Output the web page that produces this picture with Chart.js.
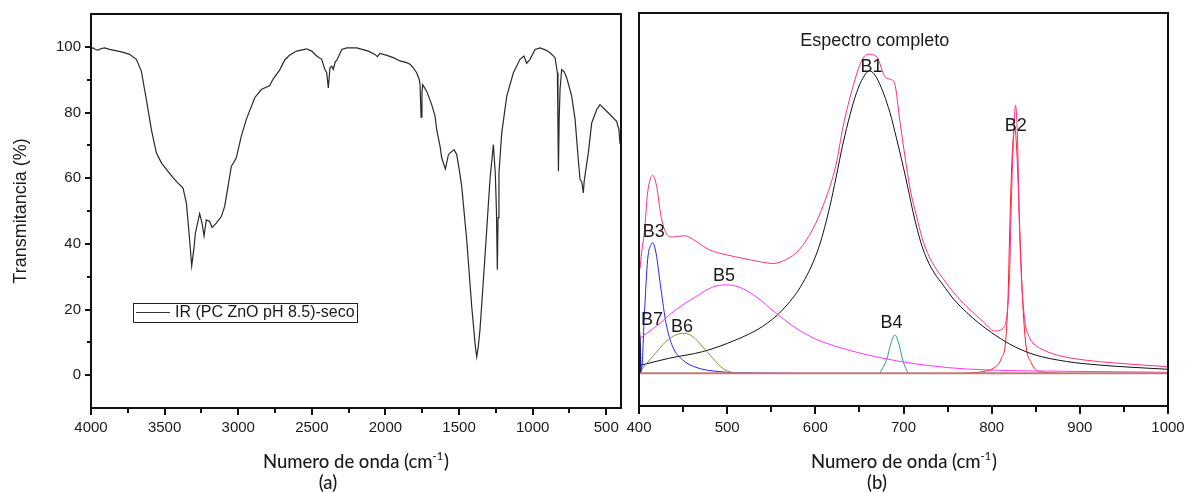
<!DOCTYPE html>
<html>
<head>
<meta charset="utf-8">
<script src="https://cdn.jsdelivr.net/npm/chart.js@4.4.1/dist/chart.umd.min.js"></script>
<style>
  html, body { margin: 0; padding: 0; background: #ffffff; }
  #wrap { position: relative; width: 1187px; height: 493px; overflow: hidden; background: #ffffff; }
  #cA { position: absolute; left: 0; top: 0; }
  #cB { position: absolute; left: 610px; top: 0; }
</style>
</head>
<body>
<div id="wrap">
  <canvas id="cA" width="630" height="493"></canvas>
  <canvas id="cB" width="577" height="493"></canvas>
</div>
<script>
// ---------- (a) IR spectrum: wavenumber (cm-1) vs transmittance (%) ----------
const irWave = [4000,3986,3970,3952,3930,3907,3880,3850,3817,3780,3738,3692,3658,3640,3624,3590,3556,3520,3477,3440,
  3409,3375,3352,3334,3316,3300,3291,3262,3246,3232,3217,3194,3178,3149,3115,3092,3069,3047,3013,2979,
  2945,2888,2843,2786,2764,2718,2684,2650,2603,2535,2501,2467,2433,2411,2399,2388,2377,2365,2354,2343,
  2327,2297,2263,2195,2116,2071,2055,2037,1990,1947,1901,1856,1833,1811,1788,1770,1765,1758,1752,1747,
  1720,1686,1663,1652,1629,1618,1593,1573,1566,1534,1516,1500,1482,1448,1414,1390,1380,1370,1358,1324,
  1290,1267,1254,1246,1240,1235,1229,1210,1176,1131,1086,1059,1041,1018,984,950,910,882,848,832,
  828,825,820,814,803,785,769,735,712,690,678,667,660,656,650,642,622,599,565,543,
  509,475,430,414,407,405];
const irTrans = [99.5,99.7,99.2,99.0,99.5,99.7,99.3,99.0,98.7,98.3,97.7,96.2,92.6,88.0,84.0,74.8,67.7,64.5,62.1,60.0,
  58.5,57.0,52.4,43.3,33.3,39.0,43.3,49.2,46.3,42.4,47.3,46.8,45.0,46.3,48.3,51.4,57.5,63.6,66.2,72.8,
  77.9,84.5,87.0,88.2,90.1,93.0,96.0,97.5,98.7,99.4,98.7,97.2,96.2,93.1,92.1,87.5,93.6,94.1,93.1,95.2,
  96.2,99.2,99.7,99.7,98.7,97.7,97.0,98.0,97.4,96.7,95.7,95.2,94.7,93.6,92.1,90.0,88.5,78.6,86.0,88.5,
  86.5,82.4,78.9,74.8,69.7,66.2,62.8,67.0,67.5,68.7,67.2,63.0,57.5,41.2,20.9,9.0,5.6,8.5,13.7,36.1,
  59.5,70.2,61.6,50.0,32.1,48.0,61.6,73.8,85.0,92.1,96.2,97.2,95.0,96.2,99.2,99.7,99.0,98.2,96.7,92.1,
  75.0,62.1,78.0,87.0,93.1,92.3,90.6,85.0,77.9,65.6,59.5,59.0,57.0,55.5,59.0,61.6,67.7,76.8,80.9,82.4,
  80.9,79.4,77.3,74.8,70.7,70.5];
const irLabel = 'IR (PC ZnO pH 8.5)-seco';
const irXTicks = [4000, 3500, 3000, 2500, 2000, 1500, 1000, 500];
const irXMinor = [3750, 3250, 2750, 2250, 1750, 1250, 750];
const irYTicks = [0, 20, 40, 60, 80, 100];
const irYMinor = [10, 30, 50, 70, 90];

// ---------- (b) band deconvolution 400-1000 cm-1 ----------
const envWave = [400.3,401,403,406,409.8,415.5,420,425,430.6,438.2,451.4,464.6,479.7,498.6,521.3,540.2,551.5,566.6,581.7,596.9,
  610,623.3,631.6,642.9,652.4,659.9,669.4,678.9,686.4,690.2,695.9,699.6,703.4,708,714.8,721,727,735,745,757,
  771.5,790.3,803.5,813,817.5,820.5,822.1,824.5,827,829.5,831,833.7,837.5,843.1,848,854.5,873.4,903.6,941.3,1000];
const envVal = [50.5,32,37,42.8,55.1,60.4,57.1,47.9,42.9,41.6,42,40.3,37.7,36.2,34.9,33.9,33.5,34.7,37.7,43.9,
  52,63.5,75.5,87.7,95.4,97.4,96.7,90.6,89.6,88.3,77,70,63,55.6,48,41.4,36.9,32.7,28.9,24.6,
  20.4,15.8,12.9,13.8,18.4,31.6,50,70,81.8,70,50,29.6,16.3,10.8,8.9,7.7,5.6,4.1,3.1,2.0];

const b1Wave = [400,434.4,472.2,510,540.2,562.9,585.6,604.4,616.5,623.3,631.6,646.8,658.1,661.9,671.3,684.6,692,699.6,705.5,711,
  716,721,727,735,745,757,771.5,785,800,820.5,846.9,884.8,922.5,960.3,1000];
const b1Val = [2.3,4.6,6.6,10.2,14.3,19.4,27.5,38.8,51,59.5,70.4,85.7,91.8,92.3,89.3,79.6,71.8,63.2,56,49,
  43.5,38.8,34.6,30.6,26.9,22.6,18.6,15.4,12.4,8.9,5.8,3.6,2.5,1.8,1.2];

const b2Wave = [770,790,801.6,811.1,816,818.6,820.5,823,826.2,829,831.9,834.9,838.6,845.1,854.5,880];
const b2Val = [0,0.5,1.5,4.6,10.2,23.4,43.9,65,75,65,43.9,23.4,9.2,3.1,0.5,0];

const b3Wave = [401,403,406,409.8,413.6,415.5,419.3,425,430.6,438.2,449.5,464.6,491,510,574];
const b3Val = [0.5,1,17.3,34.7,39.3,39.8,36.7,25.5,15.3,8.1,4.1,1.8,0.5,0.2,0];

const b4Wave = [673.2,680.8,686.4,690.2,694,699.6,705.3];
const b4Val = [0,4.1,9.7,11.7,9.7,3.6,0];

const b5Wave = [401.1,419.3,441.9,464.6,483.5,498.6,513.7,532.6,555.3,578,600.6,616.5,623.3,640,654.3,692.1,729.9,771.5,922.5,1000];
const b5Val = [10.7,14.3,19.4,23.4,26.3,27,26.3,23.4,18.4,13.8,10.4,8.8,8.2,6.9,5.9,3.8,2.3,1.3,0.5,0.3];

const b6Wave = [400,402.3,415.5,430.6,441.9,451.4,460.9,472.2,483.5,494.8,506.2,515];
const b6Val = [0.3,1,5.1,9.7,11.7,12.2,11.2,8.1,4.6,1.5,0.2,0];

const b7Wave = [400,400.6,401.4,402];
const b7Val = [0,13,8,0];

const baseWave = [400, 1000];
const baseVal = [0, 0];

const spXTicks = [400, 500, 600, 700, 800, 900, 1000];
const spXMinor = [450, 550, 650, 750, 850, 950];
const spTitle = 'Espectro completo';
const bandNames = ['B1', 'B2', 'B3', 'B4', 'B5', 'B6', 'B7'];

// ---------- shared helpers ----------
const TXT = '#1a1a1a';
const TICK_FONT = { family: 'Liberation Sans, Arial, sans-serif', size: 15 };
const pts = (xs, ys) => xs.map((x, i) => ({ x: x, y: ys[i] }));

// keep the plot area exactly where the layout padding puts it
function noAutoPadding(s) {
  s.paddingTop = 0; s.paddingBottom = 0; s.paddingLeft = 0; s.paddingRight = 0;
}

function drawFrame(ctx, a) {
  ctx.save();
  ctx.strokeStyle = '#111';
  ctx.lineWidth = 2;
  ctx.strokeRect(a.left, a.top, a.right - a.left, a.bottom - a.top);
  ctx.restore();
}

function drawXTicks(chart, majors, minors, majLen, minLen) {
  const { ctx, chartArea: a } = chart;
  const s = chart.scales.x;
  ctx.save();
  ctx.strokeStyle = '#111';
  ctx.lineWidth = 2;
  const mark = (v, len) => {
    const px = Math.round(s.getPixelForValue(v));
    ctx.beginPath(); ctx.moveTo(px, a.bottom); ctx.lineTo(px, a.bottom + len); ctx.stroke();
  };
  majors.forEach(v => mark(v, majLen));
  minors.forEach(v => mark(v, minLen));
  ctx.restore();
}

function drawYTicks(chart, majors, minors, majLen, minLen) {
  const { ctx, chartArea: a } = chart;
  const s = chart.scales.y;
  ctx.save();
  ctx.strokeStyle = '#111';
  ctx.lineWidth = 2;
  const mark = (v, len) => {
    const py = Math.round(s.getPixelForValue(v));
    ctx.beginPath(); ctx.moveTo(a.left, py); ctx.lineTo(a.left - len, py); ctx.stroke();
  };
  majors.forEach(v => mark(v, majLen));
  minors.forEach(v => mark(v, minLen));
  ctx.restore();
}

// axis title "Numero de onda (cm-1)" with superscript, plus panel letter
function drawWaveTitle(ctx, cx, cy, letter, letterX) {
  ctx.save();
  ctx.fillStyle = TXT;
  ctx.textBaseline = 'alphabetic';
  const main = '500 18.5px Lato, sans-serif';
  const sup = '500 11px Lato, sans-serif';
  const p1 = 'Numero de onda (cm', p2 = '-1', p3 = ')';
  ctx.font = main; const w1 = ctx.measureText(p1).width; const w3 = ctx.measureText(p3).width;
  ctx.font = sup; const w2 = ctx.measureText(p2).width;
  let x = cx - (w1 + w2 + 1 + w3) / 2;
  const base = cy + 6.5;
  ctx.textAlign = 'left';
  ctx.font = main; ctx.fillText(p1, x, base); x += w1;
  ctx.font = sup; ctx.fillText(p2, x, base - 8); x += w2 + 1;
  ctx.font = main; ctx.fillText(p3, x, base);
  ctx.textAlign = 'center';
  ctx.font = main;
  ctx.fillText(letter, letterX, base + 21);
  ctx.restore();
}

const noTicksGrid = { display: false, drawTicks: false };

// ---------- chart (a) ----------
const panelA = {
  id: 'panelA',
  afterDatasetsDraw(chart) {
    const { ctx, chartArea: a } = chart;
    drawFrame(ctx, a);
    drawXTicks(chart, irXTicks, irXMinor, 7, 5);
    drawYTicks(chart, irYTicks, irYMinor, 6, 4);

    // legend box
    ctx.save();
    ctx.strokeStyle = '#222';
    ctx.lineWidth = 1;
    ctx.strokeRect(133.5, 303.5, 224, 19);
    ctx.strokeStyle = '#333';
    ctx.beginPath(); ctx.moveTo(136, 312.5); ctx.lineTo(170, 312.5); ctx.stroke();
    ctx.fillStyle = TXT;
    ctx.font = '16px "Liberation Sans", Arial, sans-serif';
    ctx.textAlign = 'left';
    ctx.textBaseline = 'middle';
    ctx.fillText(irLabel, 175, 313);
    ctx.restore();

    // y title
    ctx.save();
    ctx.translate(21, 211);
    ctx.rotate(-Math.PI / 2);
    ctx.fillStyle = TXT;
    ctx.font = '18px "Liberation Sans", Arial, sans-serif';
    ctx.textAlign = 'center';
    ctx.textBaseline = 'middle';
    ctx.fillText('Transmitancia (%)', 0, 0);
    ctx.restore();

    drawWaveTitle(ctx, 356, 461.5, '(a)', 328);
  }
};

new Chart(document.getElementById('cA'), {
  type: 'line',
  data: {
    datasets: [{
      label: irLabel,
      data: pts(irWave, irTrans),
      borderColor: '#2a2a2a',
      borderWidth: 1.2,
      pointRadius: 0,
      tension: 0,
      fill: false
    }]
  },
  options: {
    responsive: false,
    animation: false,
    events: [],
    layout: { padding: { top: 14, right: 9, left: 0, bottom: 0 } },
    plugins: { legend: { display: false }, tooltip: { enabled: false } },
    scales: {
      x: {
        type: 'linear', reverse: true, min: 400, max: 4000,
        afterBuildTicks: s => { s.ticks = irXTicks.map(v => ({ value: v })); },
        afterFit: s => { s.height = 85; noAutoPadding(s); },
        grid: noTicksGrid, border: { display: false },
        ticks: { padding: 11, maxRotation: 0, autoSkip: false, color: TXT, font: TICK_FONT, callback: v => String(v) }
      },
      y: {
        type: 'linear', min: -10, max: 110,
        afterBuildTicks: s => { s.ticks = irYTicks.map(v => ({ value: v })); },
        afterFit: s => { s.width = 91; noAutoPadding(s); },
        grid: noTicksGrid, border: { display: false },
        ticks: { padding: 10, color: TXT, font: TICK_FONT, callback: v => String(v) }
      }
    }
  },
  plugins: [panelA]
});

// ---------- chart (b) ----------
const tagFont = '18px "Liberation Sans", Arial, sans-serif';
const bandTags = [
  { x: 663.8, y: 93.6 }, { x: 827.4, y: 75.5 }, { x: 416.8, y: 43.2 }, { x: 686.5, y: 15.2 },
  { x: 496.4, y: 29.7 }, { x: 448.7, y: 14.1 }, { x: 414.7, y: 16.3 }
];

const panelB = {
  id: 'panelB',
  afterDatasetsDraw(chart) {
    const { ctx, chartArea: a } = chart;
    drawFrame(ctx, a);
    drawXTicks(chart, spXTicks, spXMinor, 8, 6);
    const sx = chart.scales.x, sy = chart.scales.y;
    ctx.save();
    ctx.fillStyle = TXT;
    ctx.textAlign = 'center';
    ctx.textBaseline = 'middle';
    ctx.font = '18px "Liberation Sans", Arial, sans-serif';
    ctx.fillText(spTitle, sx.getPixelForValue(667.5), sy.getPixelForValue(101.4));
    ctx.font = tagFont;
    bandNames.forEach((n, i) => {
      ctx.fillText(n, sx.getPixelForValue(bandTags[i].x), sy.getPixelForValue(bandTags[i].y));
    });
    ctx.restore();
    drawWaveTitle(ctx, 904 - 610, 461.5, '(b)', 877 - 610);
  }
};

const curve = (label, xs, ys, color, width) => ({
  label: label,
  data: pts(xs, ys),
  borderColor: color,
  borderWidth: width || 1,
  pointRadius: 0,
  cubicInterpolationMode: 'monotone',
  fill: false
});

new Chart(document.getElementById('cB'), {
  type: 'line',
  data: {
    datasets: [
      curve('base', baseWave, baseVal, '#c07a7a', 2),
      curve('B7', b7Wave, b7Val, '#1a1a80', 1.5),
      curve('B6', b6Wave, b6Val, '#8e8e3a'),
      curve('B5', b5Wave, b5Val, '#ff33ff'),
      curve('B4', b4Wave, b4Val, '#2e9a9a'),
      curve('B3', b3Wave, b3Val, '#2424ff'),
      curve('B1', b1Wave, b1Val, '#111111'),
      curve(spTitle, envWave, envVal, '#ff2d87'),
      curve('B2', b2Wave, b2Val, '#ff1a1a')
    ]
  },
  options: {
    responsive: false,
    animation: false,
    events: [],
    layout: { padding: { top: 13, right: 19, left: 29, bottom: 0 } },
    plugins: { legend: { display: false }, tooltip: { enabled: false } },
    scales: {
      x: {
        type: 'linear', min: 400, max: 1000,
        afterBuildTicks: s => { s.ticks = spXTicks.map(v => ({ value: v })); },
        afterFit: s => { s.height = 87; noAutoPadding(s); },
        grid: noTicksGrid, border: { display: false },
        ticks: { padding: 13, maxRotation: 0, autoSkip: false, color: TXT, font: TICK_FONT, callback: v => String(v) }
      },
      y: { type: 'linear', min: -10, max: 110, display: false, afterFit: noAutoPadding }
    }
  },
  plugins: [panelB]
});
</script>
</body>
</html>
